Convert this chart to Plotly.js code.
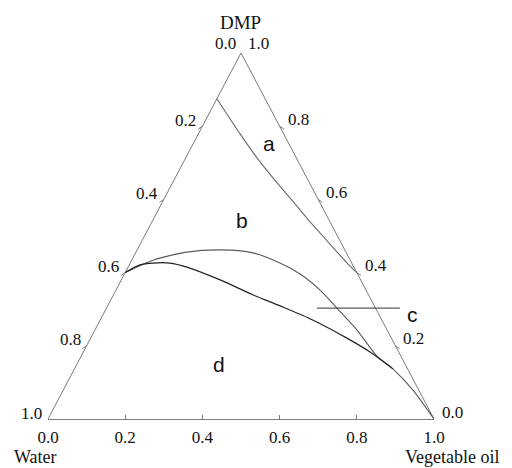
<!DOCTYPE html>
<html><head><meta charset="utf-8">
<script src="https://cdn.plot.ly/plotly-3.0.1.min.js"></script>
<style>html,body{margin:0;padding:0;background:#fff}#chart{width:512px;height:468px}</style>
</head><body><div id="chart"></div>
<script>
// Vertex names
const vertexTop = 'DMP';
const vertexLeft = 'Water';
const vertexRight = 'Vegetable oil';

// Tick values on each edge
const waterTicks = [0.0, 0.2, 0.4, 0.6, 0.8, 1.0];   // left edge
const dmpTicks   = [1.0, 0.8, 0.6, 0.4, 0.2, 0.0];   // right edge
const oilTicks   = [0.0, 0.2, 0.4, 0.6, 0.8, 1.0];   // bottom edge

// Boundary a / b
const curveA_dmp   = [0.875, 0.779, 0.710, 0.656, 0.604, 0.549, 0.500, 0.456, 0.426, 0.400];
const curveA_oil   = [0.000, 0.108, 0.189, 0.257, 0.325, 0.396, 0.462, 0.521, 0.562, 0.600];
const curveA_water = [0.125, 0.113, 0.101, 0.087, 0.071, 0.055, 0.038, 0.023, 0.012, 0.000];

// Boundary b / c
const curveB_dmp   = [0.400, 0.434, 0.456, 0.462, 0.454, 0.426, 0.396, 0.352, 0.303, 0.243, 0.172, 0.137, 0.079, 0.000];
const curveB_oil   = [0.000, 0.055, 0.132, 0.215, 0.304, 0.388, 0.455, 0.529, 0.597, 0.679, 0.766, 0.825, 0.906, 1.000];
const curveB_water = [0.600, 0.511, 0.412, 0.323, 0.242, 0.186, 0.149, 0.119, 0.100, 0.078, 0.062, 0.038, 0.015, 0.000];

// Boundary c / d
const curveC_dmp   = [0.400, 0.421, 0.426, 0.426, 0.415, 0.380, 0.339, 0.309, 0.270, 0.221, 0.183, 0.137];
const curveC_oil   = [0.000, 0.028, 0.059, 0.103, 0.152, 0.256, 0.362, 0.447, 0.552, 0.664, 0.743, 0.825];
const curveC_water = [0.600, 0.551, 0.515, 0.471, 0.433, 0.364, 0.299, 0.244, 0.178, 0.115, 0.074, 0.038];

// Region labels (composition: DMP, oil)
const regionNames = ['a', 'b', 'c', 'd'];
const region_dmp  = [0.753, 0.541, 0.303, 0.148];
const region_oil  = [0.195, 0.233, 0.545, 0.370];

// ternary (DMP, oil) -> cartesian
function tx(d, o) { return o + d / 2; }
function ty(d) { return d; }
function curve(dArr, oArr) {
  return { x: dArr.map((d, i) => tx(d, oArr[i])), y: dArr.map(ty) };
}

const serif = "'Liberation Serif', 'Times New Roman', serif";
const sans = "'Liberation Sans', Arial, sans-serif";
function tickFont() { return { family: serif, size: 17, color: '#111' }; }
const edgeColor = '#7a7a7a';

const traces = [];
// triangle left & right edges
traces.push({ type: 'scatter', mode: 'lines', x: [tx(0, 0), tx(1, 0), tx(0, 1)], y: [ty(0), ty(1), ty(0)],
  line: { color: edgeColor, width: 1 }, hoverinfo: 'skip' });

// small tick marks on left and right edges
const TL = 0.011;
const lx = [], ly = [];
waterTicks.forEach(w => { const d = 1 - w; if (w > 0 && w < 1) { lx.push(tx(d, 0), tx(d, 0) - TL, null); ly.push(ty(d), ty(d) - 0.008, null); } });
const rx = [], ry = [];
dmpTicks.forEach(d => { if (d > 0 && d < 1) { rx.push(tx(d, 1 - d), tx(d, 1 - d) + TL, null); ry.push(ty(d), ty(d) - 0.008, null); } });
traces.push({ type: 'scatter', mode: 'lines', x: lx, y: ly, line: { color: edgeColor, width: 1 }, hoverinfo: 'skip' });
traces.push({ type: 'scatter', mode: 'lines', x: rx, y: ry, line: { color: edgeColor, width: 1 }, hoverinfo: 'skip' });

const cA = curve(curveA_dmp, curveA_oil);
const cB = curve(curveB_dmp, curveB_oil);
const cC = curve(curveC_dmp, curveC_oil);
traces.push({ type: 'scatter', mode: 'lines', x: cA.x, y: cA.y, line: { color: '#6a6a6a', width: 1.1, shape: 'spline', smoothing: 0.7 }, hoverinfo: 'skip' });
traces.push({ type: 'scatter', mode: 'lines', x: cB.x, y: cB.y, line: { color: '#5a5a5a', width: 1.1, shape: 'spline', smoothing: 0.7 }, hoverinfo: 'skip' });
traces.push({ type: 'scatter', mode: 'lines', x: cC.x, y: cC.y, line: { color: '#222222', width: 1.2, shape: 'spline', smoothing: 0.8 }, hoverinfo: 'skip' });

const ann = [];
// left edge labels (water)
waterTicks.forEach(w => {
  const d = 1 - w;
  const top = (w === 0);
  ann.push({ x: tx(d, 0), y: ty(d), xref: 'x', yref: 'y', text: w.toFixed(1), showarrow: false,
    xanchor: 'right', yanchor: 'middle', xshift: top ? -3 : -4, yshift: top ? 10 : 6, font: tickFont() });
});
// right edge labels (DMP)
dmpTicks.forEach(d => {
  const top = (d === 1);
  ann.push({ x: tx(d, 1 - d), y: ty(d), xref: 'x', yref: 'y', text: d.toFixed(1), showarrow: false,
    xanchor: 'left', yanchor: 'middle', xshift: top ? 5 : 6, yshift: top ? 10 : 7, font: tickFont() });
});
// vertex titles
ann.push({ x: tx(1, 0), y: ty(1), xref: 'x', yref: 'y', text: vertexTop, showarrow: false, xanchor: 'center', yanchor: 'middle', yshift: 31, xshift: -1, font: { family: serif, size: 19, color: '#111' } });
ann.push({ x: tx(0, 0), y: ty(0), xref: 'x', yref: 'y', text: vertexLeft, showarrow: false, xanchor: 'center', yanchor: 'middle', yshift: -38, xshift: -13, font: { family: serif, size: 18, color: '#111' } });
ann.push({ x: tx(0, 1), y: ty(0), xref: 'x', yref: 'y', text: vertexRight, showarrow: false, xanchor: 'center', yanchor: 'middle', yshift: -38, xshift: 18, font: { family: serif, size: 18, color: '#111' } });
// region labels
regionNames.forEach((n, i) => {
  const p = { x: tx(region_dmp[i], region_oil[i]), y: ty(region_dmp[i]) };
  if (n === 'c') {
    ann.push({ x: p.x, y: p.y, xref: 'x', yref: 'y', text: n, showarrow: true, arrowhead: 0, arrowwidth: 1, arrowcolor: '#333',
      ax: 96, ay: 0, startstandoff: 6, height: 36, valign: 'bottom', font: { family: sans, size: 21, color: '#111' } });
  } else {
    ann.push({ x: p.x, y: p.y, xref: 'x', yref: 'y', text: n, showarrow: false, xanchor: 'center', yanchor: 'middle',
      font: { family: sans, size: 21, color: '#111' } });
  }
});

const layout = {
  width: 512, height: 468,
  margin: { l: 48, r: 78, t: 53, b: 49, pad: 0 },
  paper_bgcolor: '#fff', plot_bgcolor: '#fff',
  showlegend: false,
  xaxis: { range: [0, 1], showgrid: false, zeroline: false, showline: true, linecolor: edgeColor, linewidth: 1,
    ticks: 'inside', ticklen: 4, tickcolor: edgeColor, tickvals: oilTicks, ticktext: oilTicks.map(v => v.toFixed(1)),
    tickfont: tickFont(), ticklabelstandoff: 3, fixedrange: true },
  yaxis: { range: [0, 1], visible: false, fixedrange: true },
  annotations: ann
};
Plotly.newPlot('chart', traces, layout, { displayModeBar: false, staticPlot: true });
</script>
</body></html>
